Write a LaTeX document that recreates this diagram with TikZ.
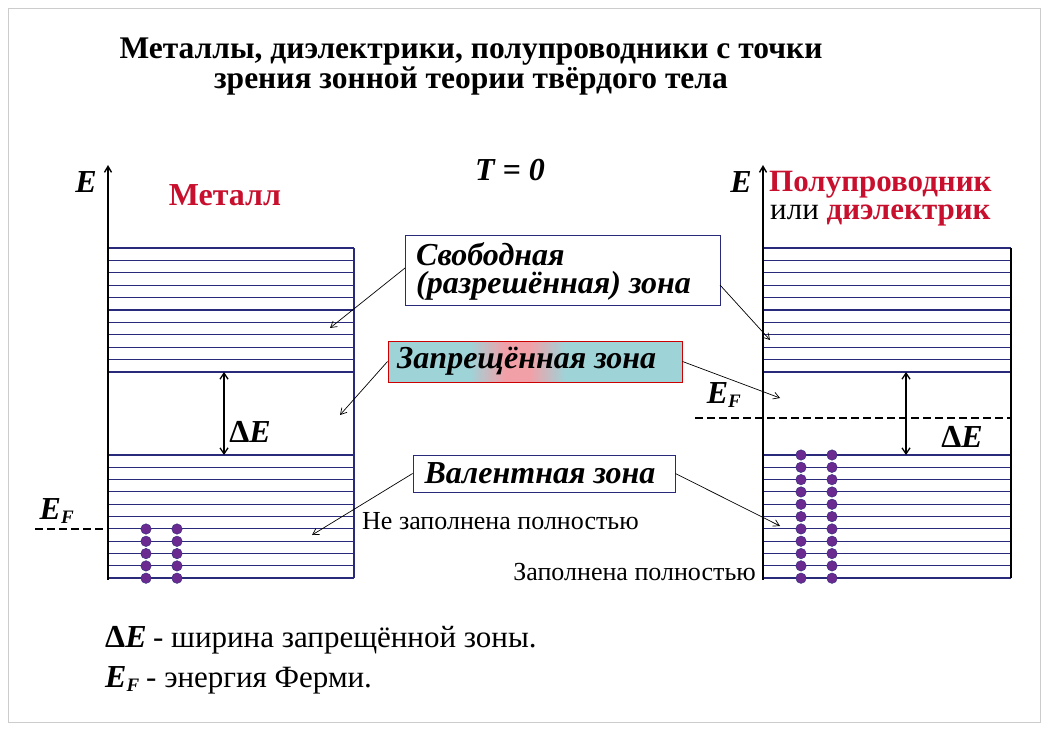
\documentclass[tikz,border=0pt]{standalone}
\usepackage{fontspec}
\setmainfont{Liberation Serif}
\usetikzlibrary{arrows.meta}
\definecolor{lvl}{HTML}{2A2A7A}
\definecolor{dred}{HTML}{C8102E}
\definecolor{teal}{HTML}{9ED3D8}
\definecolor{pinkc}{HTML}{F2A0A8}
\definecolor{dot}{HTML}{6A2A90}
\newcommand{\dE}{{\upshape Δ}E}
\newcommand{\eF}{E\textsubscript{\fontsize{19}{20}\selectfont F}}
\tikzset{lvlline/.style={lvl,line width=1.1pt},
 lbl/.style={inner sep=0pt,anchor=center},
 big/.style={font=\fontsize{32}{36}\bfseries\itshape},
 ptr/.style={-{Straight Barb[length=6pt,width=7pt]},line width=0.7pt},
 boxA/.style={draw=lvl,line width=0.8pt,fill=white,inner sep=0pt},
 edot/.style={circle,fill=dot,draw=lvl,line width=0.4pt,inner sep=0pt,minimum size=10.5pt}}
\begin{document}
\begin{tikzpicture}[x=1pt,y=-1pt,font=\fontsize{26}{28}\selectfont]
\useasboundingbox (0,0) rectangle (1048,730);
\draw[gray!40,line width=0.8pt] (8,8) rectangle (1040,722);
% title
\node[lbl,font=\fontsize{31.5}{36}\bfseries] (t1) at (471,52) {Металлы, диэлектрики, полупроводники с точки};
\node[lbl,font=\fontsize{31.5}{36}\bfseries] (t2) at (471,81) {зрения зонной теории твёрдого тела};
\node[lbl,big] (T) at (510,170) {T = 0};
% metal
\foreach \y in {248,260.4,...,373} \draw[lvlline] (108,\y) -- (354,\y);
\foreach \y in {455,467.3,...,579} \draw[lvlline] (108,\y) -- (354,\y);
\draw[lvl,line width=1.4pt] (354,248) -- (354,578);
\coordinate (m0) at (108,580); \coordinate (m1) at (108,165);
\draw[line width=1.4pt,-{Straight Barb[length=6pt,width=7pt]}] (m0) -- (m1);
\node[lbl,big] (mE) at (86,182) {E};
\node[lbl,font=\fontsize{32}{36}\bfseries,text=dred] (mt) at (225,195) {Металл};
\coordinate (ma) at (224,372); \coordinate (mb) at (224,455);
\draw[line width=1.3pt,{Straight Barb[length=6pt,width=8pt]}-{Straight Barb[length=6pt,width=8pt]}] (ma) -- (mb);
\node[lbl,big] (mdE) at (250,432) {\dE};
\coordinate (mf0) at (35,529); \coordinate (mf1) at (108,529);
\draw[line width=1.4pt,dashed,dash pattern=on 8pt off 4pt] (mf0) -- (mf1);
\node[lbl,big] (mEF) at (57,511) {\eF};
\foreach \y in {529,541.3,553.6,565.9,578.2} {\node[edot] at (146,\y) {}; \node[edot] at (177,\y) {};}
% semiconductor
\foreach \y in {248,260.4,...,373} \draw[lvlline] (763,\y) -- (1011,\y);
\foreach \y in {455,467.3,...,579} \draw[lvlline] (763,\y) -- (1011,\y);
\draw[line width=1.4pt] (1011,248) -- (1011,578);
\coordinate (s0) at (763,580); \coordinate (s1) at (763,165);
\draw[line width=1.4pt,-{Straight Barb[length=6pt,width=7pt]}] (s0) -- (s1);
\node[lbl,big] (sE) at (741,182) {E};
\node[lbl,font=\fontsize{31}{36}\bfseries,text=dred,anchor=west] (st) at (769,185) {Полупроводник};
\node[lbl,anchor=west,font=\fontsize{31}{36}\selectfont] (st2) at (770,215) {или \textcolor{dred}{\bfseries диэлектрик}};
\coordinate (sa) at (906,372); \coordinate (sb) at (906,455);
\draw[line width=1.3pt,{Straight Barb[length=6pt,width=8pt]}-{Straight Barb[length=6pt,width=8pt]}] (sa) -- (sb);
\node[lbl,big] (sdE) at (962,437) {\dE};
\coordinate (sf0) at (695,418); \coordinate (sf1) at (1011,418);
\draw[line width=1.4pt,dashed,dash pattern=on 8pt off 4pt] (sf0) -- (sf1);
\node[lbl,big] (sEF) at (724,395) {\eF};
\foreach \i in {0,...,10} {\node[edot] at (801,455+12.32*\i) {}; \node[edot] at (832,455+12.32*\i) {};}
% boxes
\node[boxA,minimum width=315pt,minimum height=70pt] (free) at (562.5,270) {};
\node[lbl,anchor=west,big] at (416,254) {Свободная};
\node[lbl,anchor=west,big] at (416,286) {(разрешённая) зона};
\fill[teal] (388,341) rectangle (682,382);
\shade[left color=teal,right color=pinkc] (470,341) rectangle (505,382);
\fill[pinkc] (505,341) rectangle (530,382);
\shade[left color=pinkc,right color=teal] (530,341) rectangle (565,382);
\node[draw=red!80!black,line width=1pt,minimum width=294pt,minimum height=41pt,inner sep=0pt] (forb) at (535,361.5) {};
\node[lbl,anchor=west,big] at (397,361) {Запрещённая зона};
\node[boxA,minimum width=262pt,minimum height=37pt] (val) at (544,473.5) {};
\node[lbl,big] at (540,473) {Валентная зона};
% pointers
\coordinate (p1) at (330,328); \coordinate (p2) at (770,340);
\coordinate (p3) at (340,415); \coordinate (p4) at (780,398);
\coordinate (p5) at (312,535); \coordinate (p6) at (780,526);
\coordinate (fw) at (405,268); \coordinate (fe) at (720,285);
\draw[ptr] (fw) -- (p1);
\draw[ptr] (fe) -- (p2);
\draw[ptr] (forb.west) -- (p3);
\draw[ptr] (forb.east) -- (p4);
\draw[ptr] (val.west) -- (p5);
\draw[ptr] (val.east) -- (p6);
\node[lbl,anchor=west,font=\fontsize{26}{28}\selectfont] (nf) at (362,521) {Не заполнена полностью};
\node[lbl,anchor=east,font=\fontsize{26}{28}\selectfont] (ff) at (756,572) {Заполнена полностью};
% legend
\node[lbl,anchor=west] (l1) at (105,640) {{\fontsize{32}{36}\bfseries\itshape \dE} {\fontsize{31}{34}\selectfont - ширина запрещённой зоны.}};
\node[lbl,anchor=west] (l2) at (105,680) {{\fontsize{32}{36}\bfseries\itshape \eF} {\fontsize{31}{34}\selectfont - энергия Ферми.}};
\end{tikzpicture}
\end{document}
